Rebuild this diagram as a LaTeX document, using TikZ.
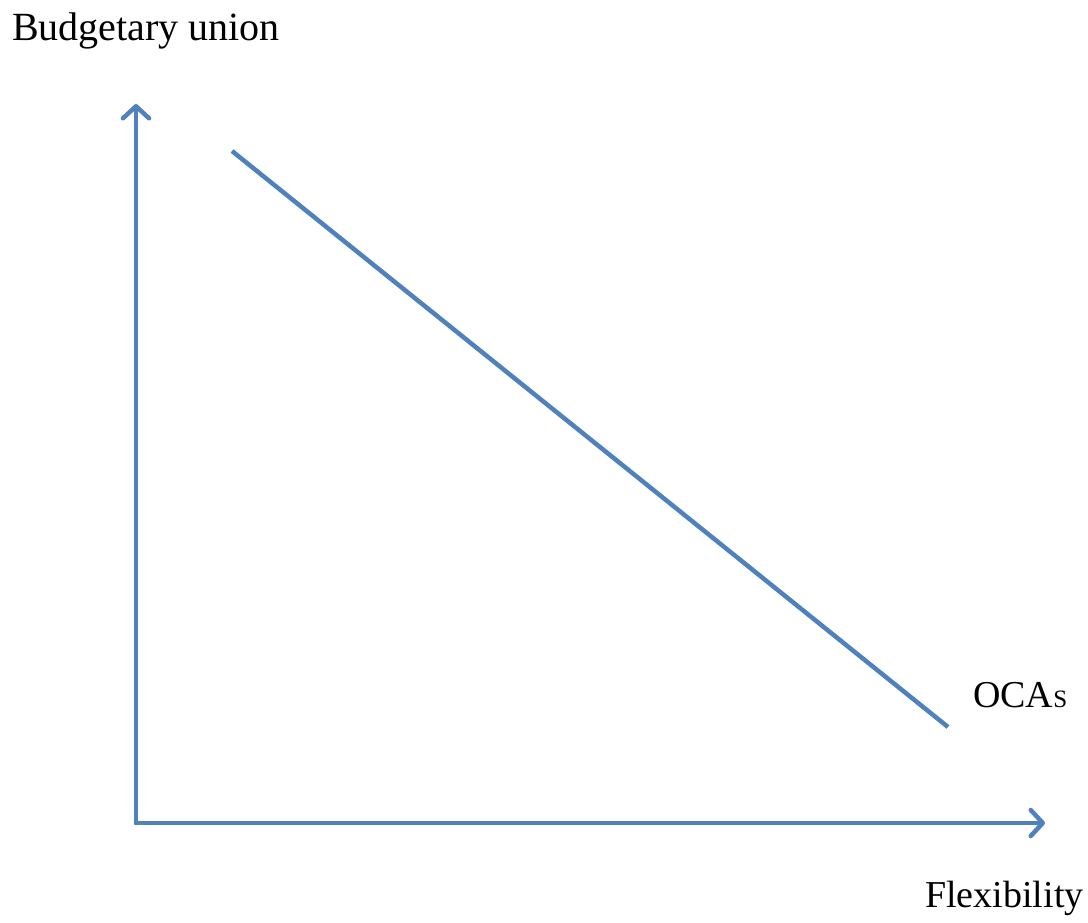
\documentclass[tikz,border=0pt]{standalone}
\usepackage{fontspec}
\setmainfont{Liberation Serif}
\usetikzlibrary{arrows.meta}
\definecolor{axisblue}{RGB}{79,129,189}

\begin{document}
\begin{tikzpicture}[x=1pt,y=-1pt,
  axis/.style={line width=4.5pt, axisblue, line cap=round, line join=round,
    -{Straight Barb[length=12pt,width=26pt,line cap=round,line join=round]}},
  curve/.style={line width=4.5pt, axisblue},
  lbl/.style={anchor=base west, inner sep=0pt, font=\fontsize{38}{44}\selectfont}]
\useasboundingbox (0,0) rectangle (1088,922);

% Axes
\coordinate (origin) at (136,823);
\coordinate (ytip) at (136,104);
\coordinate (xtip) at (1045,823);
\draw[axis] (origin) -- (ytip);
\draw[axis] (origin) -- (xtip);

% Axis labels
\node[lbl, font=\fontsize{40}{46}\selectfont] (ylabel) at (12,40) {Budgetary union};
\node[lbl] (xlabel) at (925,907) {Flexibility};

% OCA line
\coordinate (ocastart) at (232,151);
\coordinate (ocaend) at (948,727);
\draw[curve] (ocastart) -- (ocaend);
\node[lbl] (ocalabel) at (973,707) {OCA{\fontsize{25}{30}\selectfont S}};
\end{tikzpicture}
\end{document}
